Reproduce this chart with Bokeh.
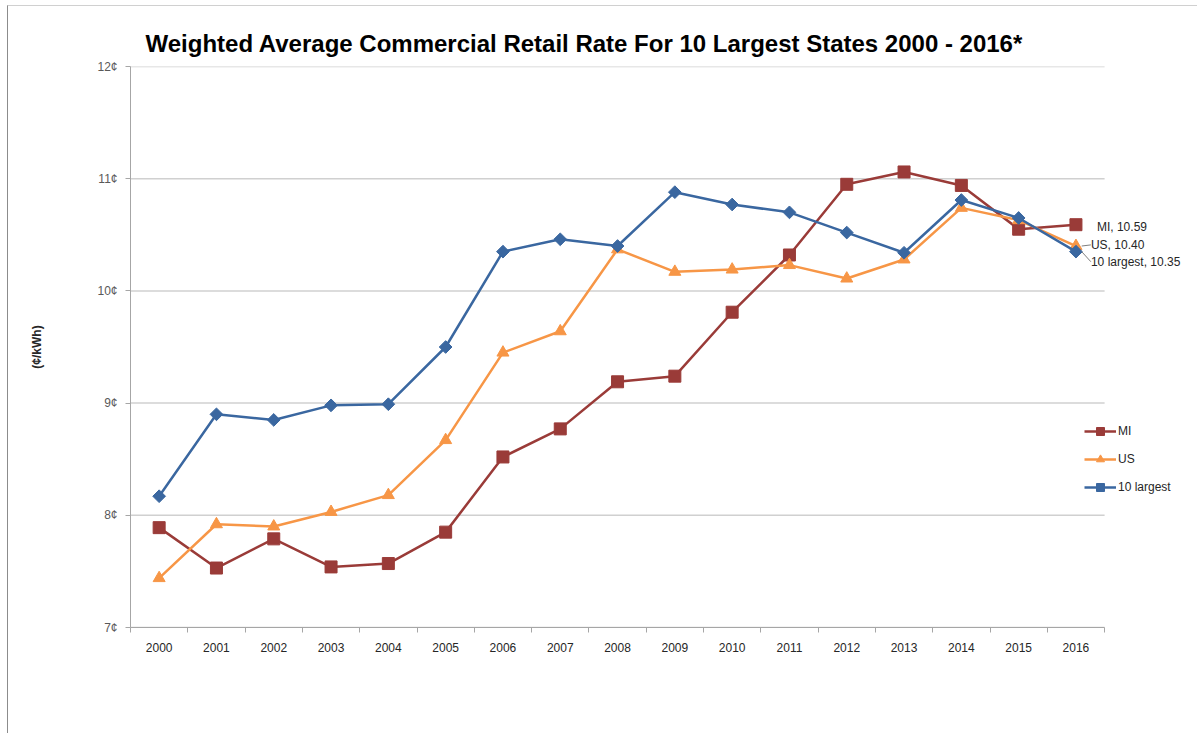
from bokeh.plotting import figure
from bokeh.models import Range1d, FixedTicker, Legend, LegendItem, Label
from bokeh.embed import file_html
from bokeh.resources import INLINE

years = [str(y) for y in range(2000, 2017)]
mi = [7.89, 7.53, 7.79, 7.54, 7.57, 7.85, 8.52, 8.77, 9.19, 9.24, 9.81, 10.32, 10.95, 11.06, 10.94, 10.55, 10.59]
us = [7.44, 7.92, 7.90, 8.03, 8.18, 8.67, 9.45, 9.64, 10.37, 10.17, 10.19, 10.23, 10.11, 10.28, 10.74, 10.63, 10.40]
largest = [8.17, 8.90, 8.85, 8.98, 8.99, 9.50, 10.35, 10.46, 10.40, 10.88, 10.77, 10.70, 10.52, 10.34, 10.81, 10.65, 10.35]
y_ticks = [7, 8, 9, 10, 11, 12]
y_tick_labels = ["7¢", "8¢", "9¢", "10¢", "11¢", "12¢"]

TITLE = "Weighted Average Commercial Retail Rate For 10 Largest States 2000 - 2016*"
FONT = "Liberation Sans"
RED, ORANGE, BLUE = "#9A3B38", "#F79646", "#3A67A0"

xs = list(range(len(years)))
n = len(years)

# layout: category band ~57.3px; frame extends past the last category so the
# end labels and legend (which sit right of the gridded area) are not clipped
W, H = 1190, 728
LEFT, RIGHT, TOP, BOTTOM = 122, 1, 60, 107
band = 57.3
frame_w = W - LEFT - RIGHT
x_end = -0.5 + frame_w / band

p = figure(width=W, height=H, output_backend="svg", toolbar_location=None,
           x_range=Range1d(-0.5, x_end), y_range=Range1d(7, 12),
           min_border_left=LEFT, min_border_right=RIGHT, min_border_top=TOP, min_border_bottom=BOTTOM,
           title=TITLE)
p.margin = (5, 0, 0, 7)
p.styles = {"border-left": "1px solid #8c8c8c", "border-top": "1px solid #d0d0d0"}
p.outline_line_color = None
p.background_fill_color = "white"
p.border_fill_color = "white"

p.title.text_font = FONT
p.title.text_font_size = "24px"
p.title.text_font_style = "bold"
p.title.text_color = "#000000"
p.title.offset = 15
p.title.standoff = 19

# x axis (line limited to the category area)
p.xaxis.bounds = (-0.5, n - 0.5)
p.xaxis.ticker = FixedTicker(ticks=xs, minor_ticks=[x - 0.5 for x in range(n + 1)])
p.xaxis.major_label_overrides = {i: y for i, y in enumerate(years)}
p.xaxis.major_tick_out = 0
p.xaxis.major_tick_in = 0
p.xaxis.minor_tick_out = 5
p.xaxis.minor_tick_in = 0
p.xaxis.minor_tick_line_color = "#a6a6a6"
p.xaxis.axis_line_color = "#a6a6a6"
p.xaxis.major_label_text_font = FONT
p.xaxis.major_label_text_font_size = "12px"
p.xaxis.major_label_text_color = "#262626"
p.xaxis.major_label_standoff = 10

p.yaxis.ticker = FixedTicker(ticks=y_ticks)
p.yaxis.major_label_overrides = {t: l for t, l in zip(y_ticks, y_tick_labels)}
p.yaxis.minor_tick_line_color = None
p.yaxis.major_tick_out = 5
p.yaxis.major_tick_in = 0
p.yaxis.major_tick_line_color = "#a6a6a6"
p.yaxis.axis_line_color = "#a6a6a6"
p.yaxis.major_label_text_font = FONT
p.yaxis.major_label_text_font_size = "12px"
p.yaxis.major_label_text_color = "#595959"
p.yaxis.major_label_standoff = 8
p.yaxis.axis_label = "(¢/kWh)"
p.yaxis.axis_label_text_font = FONT
p.yaxis.axis_label_text_font_size = "12px"
p.yaxis.axis_label_text_font_style = "bold"
p.yaxis.axis_label_text_color = "#262626"
p.yaxis.axis_label_standoff = 50

# horizontal gridlines only across the category area
p.xgrid.grid_line_color = None
p.ygrid.grid_line_color = None
p.segment(x0=[-0.5] * len(y_ticks), x1=[n - 0.5] * len(y_ticks), y0=y_ticks, y1=y_ticks,
          line_color="#d0d0d0", line_width=1.5, level="underlay")

# series
l_mi = p.line(xs, mi, line_color=RED, line_width=2.5)
s_mi = p.scatter(xs, mi, marker="square", size=12, fill_color=RED, line_color=RED)
l_us = p.line(xs, us, line_color=ORANGE, line_width=2.5)
s_us = p.scatter(xs, us, marker="triangle", size=12, fill_color=ORANGE, line_color=ORANGE)
l_lg = p.line(xs, largest, line_color=BLUE, line_width=2.5)
s_lg = p.scatter(xs, largest, marker="square", angle=0.785398, size=9, fill_color=BLUE, line_color=BLUE)

# end labels with leader lines
last = n - 1
label_specs = [("MI", mi[last], -0.02), ("US", us[last], 0.01), ("10 largest", largest[last], -0.09)]
for name, val, dy in label_specs:
    ly = val + dy
    if name != "MI":
        p.line([last + 0.1, last + 0.26], [val, ly], line_color="#7f7f7f", line_width=1)
    p.add_layout(Label(x=last, y=ly, x_offset=21 if name == "MI" else 15, text=f"{name}, {val:.2f}",
                       text_font=FONT, text_font_size="12px", text_color="#262626",
                       text_baseline="middle"))

legend = Legend(items=[
    LegendItem(label="MI", renderers=[l_mi, s_mi]),
    LegendItem(label="US", renderers=[l_us, s_us]),
    LegendItem(label="10 largest", renderers=[l_lg, s_lg]),
], location=(954, 130))
legend.background_fill_alpha = 0
legend.border_line_color = None
legend.label_text_font = FONT
legend.label_text_font_size = "12px"
legend.label_text_color = "#262626"
legend.glyph_width = 32
legend.glyph_height = 20
legend.label_standoff = 2
legend.spacing = 8
legend.padding = 4
legend.margin = 0
p.add_layout(legend)

open("out.html", "w").write(file_html(p, INLINE))
